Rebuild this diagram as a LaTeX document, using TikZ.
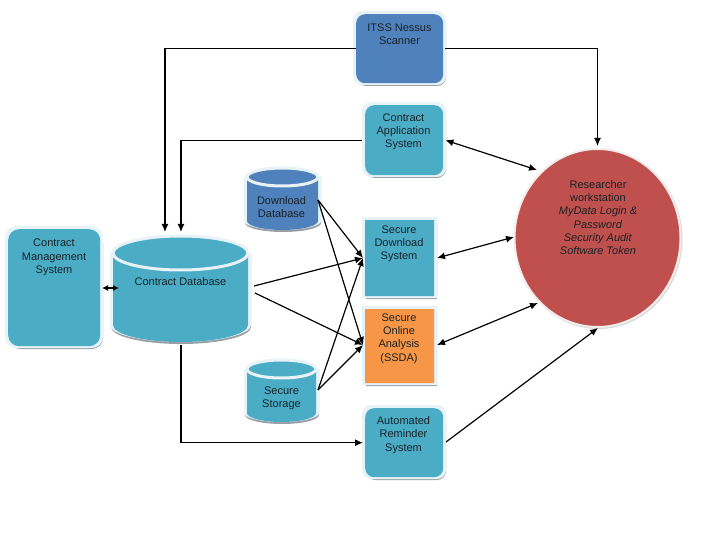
\documentclass[tikz,border=0pt]{standalone}
\usepackage{fontspec}
\setmainfont{Liberation Sans}
\usetikzlibrary{arrows.meta}
\definecolor{teal1}{HTML}{4BACC6}
\definecolor{blue1}{HTML}{4F81BD}
\definecolor{orange1}{HTML}{F79646}
\definecolor{red1}{HTML}{C0504D}
\definecolor{rimc}{HTML}{E8F3F7}
\definecolor{shadowc}{HTML}{9AA0A5}
\definecolor{inkc}{HTML}{1A2226}
\tikzset{
  lbl/.style={font=\fontsize{11}{13.3}\selectfont, text=inkc, align=center, inner sep=0pt, yshift=-1.5pt},
  conn/.style={line width=1.2pt, -{Latex[length=8pt,width=7pt]}, black},
  biconn/.style={line width=1.2pt, {Latex[length=8pt,width=7pt]}-{Latex[length=8pt,width=7pt]}, black},
  shortbi/.style={line width=1.2pt, {Latex[length=6pt,width=6pt]}-{Latex[length=6pt,width=6pt]}, black},
}
% \sysbox{name}{x1}{y1}{x2}{y2}{radius}{colour}
\newcommand{\sysbox}[7]{
  \fill[shadowc,rounded corners=#6pt] (#2+1,#3+3) rectangle (#4+3,#5+3);
  \fill[rimc,rounded corners=#6pt] (#2-3,#3-3) rectangle (#4+3,#5+2);
  \node[inner sep=0pt, rounded corners=#6pt, fill=#7, minimum width=#4pt-#2pt, minimum height=#5pt-#3pt, anchor=north west] (#1) at (#2,#3) {};
}
% \dbcyl{name}{x1}{x2}{ytop}{ybot}{ry}{colour}
\newcommand{\dbcyl}[7]{
  \fill[shadowc] (#2-2,#4+#6) -- (#3+3,#4+#6) -- (#3+3,#5-#6+2) arc[start angle=0,end angle=180,x radius={(#3-#2+5)/2},y radius=#6] -- cycle;
  \fill[rimc] (#2-3,#4+#6) -- (#3+3,#4+#6) -- (#3+3,#5-#6) arc[start angle=0,end angle=180,x radius={(#3-#2+6)/2},y radius=#6] -- cycle;
  \fill[#7] (#2,#4+#6) -- (#3,#4+#6) -- (#3,#5-#6) arc[start angle=0,end angle=180,x radius={(#3-#2)/2},y radius=#6] -- cycle;
  \fill[#7,draw=rimc,line width=3pt] ({(#2+#3)/2},#4+#6) ellipse[x radius={(#3-#2)/2},y radius=#6];
  \node[inner sep=0pt, minimum width=#3pt-#2pt, minimum height=#5pt-#4pt, anchor=north west] (#1) at (#2,#4) {};
}
\begin{document}
\begin{tikzpicture}[x=1pt,y=-1pt]
\useasboundingbox[fill=white] (0,0) rectangle (720,540);

\sysbox{itss}{356}{14}{443}{83}{9}{blue1}
\sysbox{capp}{365}{105}{443}{175}{9}{teal1}
\sysbox{sdl}{365}{220}{434}{296}{0.01}{teal1}
\sysbox{ssda}{365}{309}{434}{383}{0.01}{orange1}
\sysbox{arem}{365}{408}{443}{477}{9}{teal1}
\sysbox{cms}{8}{229}{100}{346}{11}{teal1}

\dbcyl{cdb}{113}{248}{236}{342}{17}{teal1}
\dbcyl{ddb}{247}{318}{168}{230}{9}{blue1}
\dbcyl{sst}{247}{316}{360}{422}{9}{teal1}

\fill[shadowc!40] (598.5,239) ellipse[x radius=84,y radius=90];
\fill[red1,draw=rimc!70!red1!30!white,line width=2pt] (597.5,238) ellipse[x radius=83,y radius=89];
\coordinate (resn) at (597.5,146);
\coordinate (resa) at (537,170);
\coordinate (resb) at (514,237);
\coordinate (resc) at (538,303);
\coordinate (resd) at (598,328);

% labels
\node[lbl] (litss) at (399.5,32.5) {ITSS Nessus\\Scanner};
\node[lbl] (lcapp) at (403.5,130.5) {Contract\\Application\\System};
\node[lbl] (lsdl) at (399,242.5) {Secure\\Download\\System};
\node[lbl] (lssda) at (399,337) {Secure\\Online\\Analysis\\(SSDA)};
\node[lbl] (larem) at (403.5,433.5) {Automated\\Reminder\\System};
\node[lbl] (lcms) at (54,256) {Contract\\Management\\System};
\node[lbl] (lcdb) at (180.5,280) {Contract Database};
\node[lbl] (lddb) at (281.5,205.5) {Download\\Database};
\node[lbl] (lsst) at (281.5,396.5) {Secure\\Storage};
\node[lbl] (lres) at (598,216) {Researcher\\workstation\\\textit{MyData Login \&}\\\textit{Password}\\\textit{Security Audit}\\\textit{Software Token}};

% coordinates on the cylinders' sides and junctions
\coordinate (cdbr1) at (254,286);
\coordinate (cdbr2) at (255,293);
\coordinate (ddbr) at (318,200);
\coordinate (sstr) at (318,390);
\coordinate (sdin) at (363,258);
\coordinate (ssin) at (363,345);
\coordinate (cmsr) at (102,288);
\coordinate (cdbl) at (119,288);

% connectors
\draw[conn] (itss.west) -| (165,232);
\draw[conn] ([xshift=2pt]itss.east) -| (resn);
\draw[conn] ([xshift=-3pt]capp.west) -| (181,232);
\draw[shortbi] (cmsr) -- (cdbl);
\draw[conn] (cdbr1) -- (sdin);
\draw[conn] (cdbr2) -- (ssin);
\draw[conn] (ddbr) -- (sdin);
\draw[conn] (ddbr) -- (ssin);
\draw[conn] (sstr) -- (sdin);
\draw[conn] (sstr) -- (ssin);
\draw[conn] (181,345) |- ([xshift=-2pt]arem.west);
\draw[biconn] ([xshift=2pt]capp.east) -- (resa);
\draw[biconn] (437,258) -- (resb);
\draw[biconn] (437,345) -- (resc);
\draw[conn] (446,442) -- (resd);
\end{tikzpicture}
\end{document}
